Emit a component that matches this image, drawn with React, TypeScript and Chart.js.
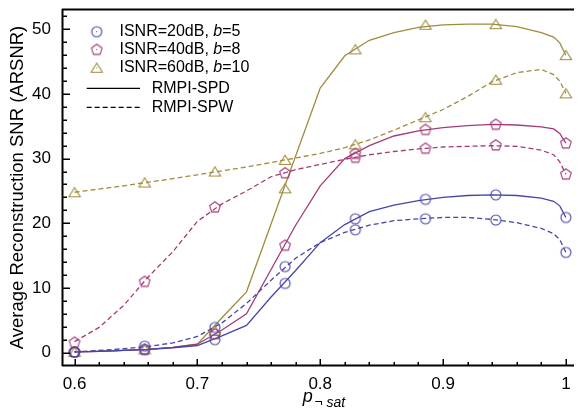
import { useEffect, useRef } from "react";
import { Chart, registerables } from "chart.js";

Chart.register(...registerables);

// ---------- data ----------
const markerX = [0.6, 0.6571, 0.7143, 0.7714, 0.8286, 0.8857, 0.9429, 1.0];
const spd20Markers = [0.1, 0.5, 2.0, 10.7, 20.7, 23.7, 24.4, 20.9];
const spw20Markers = [0.1, 1.0, 3.9, 13.3, 19.0, 20.7, 20.5, 15.5];
const spd40Markers = [0.1, 0.5, 2.9, 16.6, 30.8, 34.5, 35.3, 32.4];
const spw40Markers = [1.6, 11.0, 22.5, 27.8, 30.2, 31.6, 32.1, 27.6];
const spd60Markers = [0.1, 0.5, 3.4, 25.4, 46.9, 50.7, 50.8, 46.0];
const spw60Markers = [24.8, 26.3, 28.0, 29.8, 32.2, 36.4, 42.2, 40.1];

const lineX = [0.6, 0.62, 0.64, 0.66, 0.68, 0.7, 0.72, 0.74, 0.76, 0.78, 0.8, 0.82, 0.84, 0.86, 0.88, 0.9, 0.92, 0.94, 0.96, 0.98, 0.99, 0.995, 1.0];
const spd20Line = [0.1, 0.2, 0.35, 0.5, 0.75, 1.1, 2.6, 4.2, 8.6, 12.7, 17.0, 19.8, 21.8, 22.8, 23.5, 24.0, 24.3, 24.4, 24.3, 23.9, 23.4, 22.7, 20.9];
const spw20Line = [0.1, 0.35, 0.6, 0.95, 1.5, 2.5, 4.6, 7.6, 11.2, 14.6, 17.0, 18.6, 19.7, 20.4, 20.7, 20.9, 20.9, 20.6, 20.1, 19.2, 18.4, 17.5, 15.5];
const spd40Line = [0.1, 0.2, 0.35, 0.5, 0.8, 1.3, 3.5, 6.0, 12.85, 19.7, 25.8, 30.0, 32.0, 33.5, 34.3, 34.8, 35.1, 35.3, 35.2, 34.9, 34.6, 33.9, 32.4];
const spw40Line = [1.7, 3.9, 7.3, 11.7, 15.6, 20.3, 23.0, 25.0, 27.2, 28.3, 29.1, 29.9, 30.6, 31.1, 31.5, 31.8, 31.9, 32.0, 31.9, 31.3, 30.6, 29.5, 27.6];
const spd60Line = [0.1, 0.2, 0.35, 0.5, 0.8, 1.3, 5.4, 9.4, 19.9, 30.4, 40.9, 45.9, 48.3, 49.5, 50.3, 50.7, 50.8, 50.8, 50.4, 49.5, 48.8, 47.9, 46.0];
const spw60Line = [24.8, 25.3, 25.8, 26.35, 26.9, 27.5, 28.1, 28.7, 29.4, 30.1, 30.8, 31.7, 32.9, 34.4, 36.0, 37.6, 39.6, 41.9, 43.3, 43.8, 43.0, 42.0, 40.1];

const xTickValues = [0.6, 0.7, 0.8, 0.9, 1.0];
const xTickLabels = ["0.6", "0.7", "0.8", "0.9", "1"];
const yTickValues = [0, 10, 20, 30, 40, 50];
const yTickLabels = ["0", "10", "20", "30", "40", "50"];

const legendIsnr = ["ISNR=20dB, ", "ISNR=40dB, ", "ISNR=60dB, "];
const legendBits = ["=5", "=8", "=10"];
const legendMethods = ["RMPI-SPD", "RMPI-SPW"];
const yTitle = "Average Reconstruction SNR (ARSNR)";

// ---------- styling ----------
const FONT = '"Liberation Sans", Arial, Helvetica, sans-serif';
const BLUE = "#4646a6";
const MAG = "#a33b7a";
const OLIVE = "#a08c3e";
const X_MIN = 0.5898;
const X_MAX = 1.0066;
const Y_MIN = -2.07;
const Y_MAX = 53.14;

function makeMarker(shape: string, color: string): HTMLCanvasElement {
  const c = document.createElement("canvas");
  c.width = 16;
  c.height = 16;
  const g = c.getContext("2d")!;
  g.strokeStyle = color;
  g.lineWidth = 1.1;
  g.beginPath();
  if (shape === "circle") {
    g.arc(8, 8, 5, 0, Math.PI * 2);
  } else if (shape === "pent") {
    const r = 5.6;
    for (let k = 0; k < 5; k++) {
      const a = -Math.PI / 2 + (k * 2 * Math.PI) / 5;
      const px = 8 + r * Math.cos(a);
      const py = 8.3 + r * Math.sin(a);
      if (k === 0) g.moveTo(px, py);
      else g.lineTo(px, py);
    }
    g.closePath();
  } else {
    g.moveTo(8, 3.3);
    g.lineTo(2.3, 12.5);
    g.lineTo(13.7, 12.5);
    g.closePath();
  }
  g.stroke();
  return c;
}

export default function App() {
  const ref = useRef<HTMLCanvasElement>(null);

  useEffect(() => {
    const canvas = ref.current!;
    const mCircle = makeMarker("circle", BLUE);
    const mPent = makeMarker("pent", MAG);
    const mTri = makeMarker("tri", OLIVE);

    const lineDs = (vals: number[], color: string, dashed: boolean, label: string) => ({
      label,
      data: lineX.map((x, i) => ({ x, y: vals[i] })),
      showLine: true,
      borderColor: color,
      borderWidth: 1.3,
      borderDash: dashed ? [5, 3] : [],
      pointRadius: 0,
      pointHoverRadius: 0,
      tension: 0,
      fill: false,
    });
    const markDs = (vals: number[], img: HTMLCanvasElement, label: string) => ({
      label,
      data: markerX.map((x, i) => ({ x, y: vals[i] })),
      showLine: false,
      pointStyle: img,
      pointRadius: 6,
      pointHoverRadius: 6,
      borderWidth: 0,
      backgroundColor: "rgba(0,0,0,0)",
    });

    const framePlugin = {
      id: "frame",
      afterDraw(chart: any) {
        const { ctx, chartArea: a } = chart;
        const xs = chart.scales.x;
        const ys = chart.scales.y;
        ctx.save();
        ctx.strokeStyle = "#000";
        ctx.lineWidth = 2;
        ctx.beginPath();
        ctx.moveTo(a.left + 0.5, a.top);
        ctx.lineTo(a.left + 0.5, a.bottom);
        ctx.moveTo(a.left, a.bottom - 0.5);
        ctx.lineTo(a.right, a.bottom - 0.5);
        ctx.moveTo(a.left, a.top + 0.5);
        ctx.lineTo(a.right, a.top + 0.5);
        ctx.stroke();

        ctx.lineWidth = 1.5;
        ctx.beginPath();
        for (let k = 0; k <= 20; k++) {
          const v = 0.6 + k * 0.02;
          const px = Math.round(xs.getPixelForValue(v)) + 0.25;
          const major = k % 5 === 0;
          ctx.moveTo(px, a.bottom);
          ctx.lineTo(px, a.bottom - (major ? 7 : 4));
        }
        for (let v = 0; v <= 52; v += 2) {
          const py = Math.round(ys.getPixelForValue(v)) + 0.25;
          const major = v % 10 === 0;
          ctx.moveTo(a.left, py);
          ctx.lineTo(a.left + (major ? 8 : 5), py);
        }
        ctx.stroke();

        // y title
        ctx.fillStyle = "#000";
        ctx.save();
        ctx.translate(18, (a.top + a.bottom) / 2);
        ctx.rotate(-Math.PI / 2);
        ctx.font = `18.5px ${FONT}`;
        ctx.textAlign = "center";
        ctx.textBaseline = "middle";
        ctx.fillText(yTitle, 0, 0);
        ctx.restore();

        // x title: p with subscript
        ctx.textAlign = "left";
        ctx.textBaseline = "alphabetic";
        ctx.font = `italic 18px ${FONT}`;
        const wp = ctx.measureText("p").width;
        ctx.font = `italic 14px ${FONT}`;
        const sub = "\u00ac sat";
        const wsub = ctx.measureText(sub).width;
        const total = wp + 1.5 + wsub;
        const x0 = 324 - total / 2;
        ctx.font = `italic 18px ${FONT}`;
        ctx.fillText("p", x0, 402);
        ctx.font = `italic 14px ${FONT}`;
        ctx.fillText(sub, x0 + wp + 1.5, 407);

        // legend
        const rows = [31.7, 49.5, 67.8, 88.3, 107.3];
        const imgs = [mCircle, mPent, mTri];
        const cols = [BLUE, MAG, OLIVE];
        ctx.textBaseline = "middle";
        for (let i = 0; i < 3; i++) {
          const cy = rows[i];
          ctx.drawImage(imgs[i], 96.7 - 8, cy - 8);
          ctx.fillStyle = cols[i];
          ctx.fillRect(96.2, cy - 0.5, 1, 1);
          ctx.fillStyle = "#000";
          let tx = 119.5;
          ctx.font = `16px ${FONT}`;
          ctx.fillText(legendIsnr[i], tx, cy);
          tx += ctx.measureText(legendIsnr[i]).width;
          ctx.font = `italic 16px ${FONT}`;
          ctx.fillText("b", tx, cy);
          tx += ctx.measureText("b").width;
          ctx.font = `16px ${FONT}`;
          ctx.fillText(legendBits[i], tx, cy);
        }
        ctx.strokeStyle = "#000";
        ctx.lineWidth = 1.2;
        for (let j = 0; j < 2; j++) {
          const cy = rows[3 + j];
          ctx.setLineDash(j === 0 ? [] : [5, 3]);
          ctx.beginPath();
          ctx.moveTo(86.7, cy);
          ctx.lineTo(140, cy);
          ctx.stroke();
          ctx.setLineDash([]);
          ctx.font = `16px ${FONT}`;
          ctx.fillText(legendMethods[j], 151.7, cy);
        }
        ctx.restore();
      },
    };

    const chart = new Chart(canvas, {
      type: "scatter",
      data: {
        datasets: [
          markDs(spd20Markers, mCircle, "m1"),
          markDs(spw20Markers, mCircle, "m2"),
          markDs(spd40Markers, mPent, "m3"),
          markDs(spw40Markers, mPent, "m4"),
          markDs(spd60Markers, mTri, "m5"),
          markDs(spw60Markers, mTri, "m6"),
          lineDs(spd20Line, BLUE, false, "l1"),
          lineDs(spw20Line, BLUE, true, "l2"),
          lineDs(spd40Line, MAG, false, "l3"),
          lineDs(spw40Line, MAG, true, "l4"),
          lineDs(spd60Line, OLIVE, false, "l5"),
          lineDs(spw60Line, OLIVE, true, "l6"),
        ] as any,
      },
      options: {
        animation: false,
        responsive: false,
        events: [],
        layout: { padding: { top: 9, right: 0, bottom: 0, left: 0 } },
        plugins: { legend: { display: false }, tooltip: { enabled: false } },
        scales: {
          x: {
            type: "linear",
            min: X_MIN,
            max: X_MAX,
            grid: { display: false, drawTicks: false },
            border: { display: false },
            ticks: {
              font: { family: FONT, size: 17 },
              color: "#000",
              padding: 8,
              autoSkip: false,
              maxRotation: 0,
              callback: (v: any) => {
                const i = xTickValues.findIndex((t) => Math.abs(t - v) < 1e-9);
                return i >= 0 ? xTickLabels[i] : "";
              },
            },
            afterBuildTicks: (s: any) => {
              s.ticks = xTickValues.map((v) => ({ value: v }));
            },
            afterFit: (s: any) => {
              s.height = 45;
              s.paddingLeft = 0;
              s.paddingRight = 0;
              s.paddingTop = 0;
              s.paddingBottom = 0;
            },
          },
          y: {
            type: "linear",
            min: Y_MIN,
            max: Y_MAX,
            grid: { display: false, drawTicks: false },
            border: { display: false },
            ticks: {
              font: { family: FONT, size: 17 },
              color: "#000",
              padding: 11,
              autoSkip: false,
              callback: (v: any) => {
                const i = yTickValues.findIndex((t) => Math.abs(t - v) < 1e-9);
                return i >= 0 ? yTickLabels[i] : "";
              },
            },
            afterBuildTicks: (s: any) => {
              s.ticks = yTickValues.map((v) => ({ value: v }));
            },
            afterFit: (s: any) => {
              s.width = 62;
              s.paddingLeft = 0;
              s.paddingRight = 0;
              s.paddingTop = 0;
              s.paddingBottom = 0;
            },
          },
        },
      } as any,
      plugins: [framePlugin],
    });
    return () => chart.destroy();
  }, []);

  return (
    <div style={{ position: "absolute", left: 0, top: 0, width: 580, height: 411, overflow: "hidden", background: "#fff" }}>
      <canvas ref={ref} width={580} height={411} style={{ display: "block", width: 580, height: 411 }} />
    </div>
  );
}
